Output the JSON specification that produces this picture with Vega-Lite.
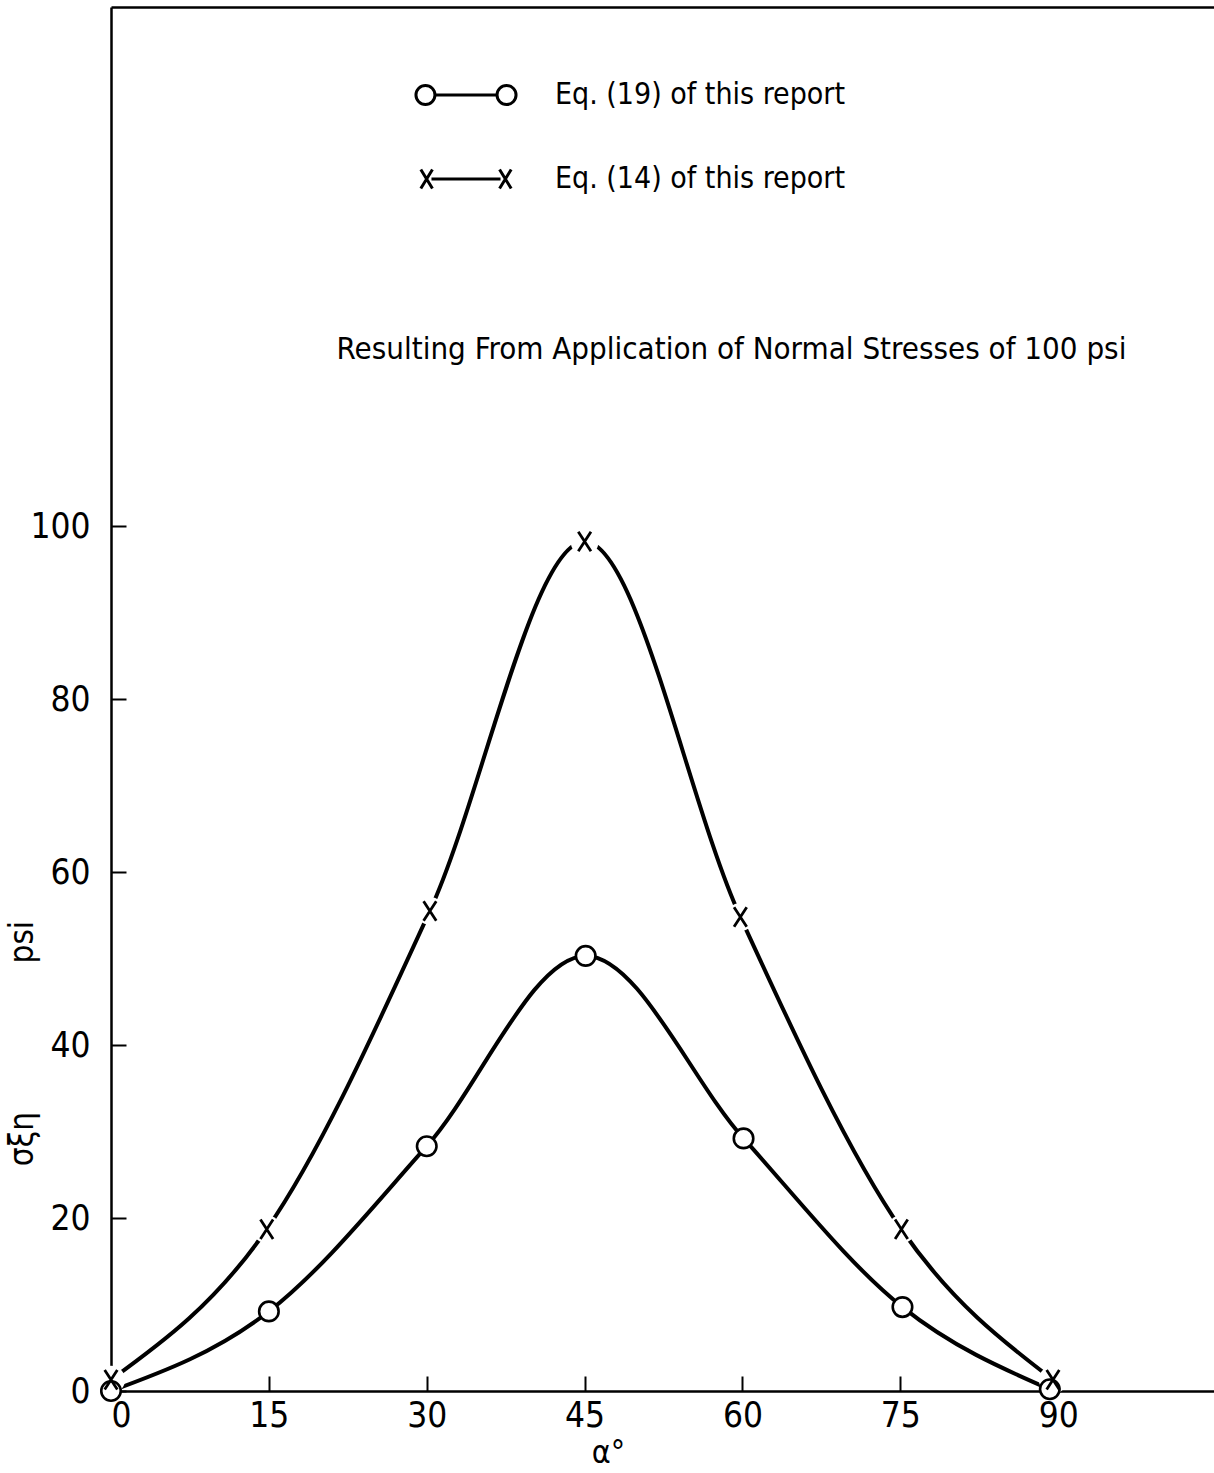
{
  "$schema": "https://vega.github.io/schema/vega-lite/v6.json",
  "width": 1103,
  "height": 1384,
  "autosize": "none",
  "padding": {"left": 111, "top": 7, "right": 0, "bottom": 82},
  "background": "white",
  "config": {
    "view": {"stroke": null},
    "font": "DejaVu Sans Condensed, Liberation Sans Narrow, sans-serif",
    "axis": {"grid": false, "domainColor": "black", "tickColor": "black", "labelColor": "black", "titleColor": "black", "titleFontWeight": "normal"}
  },
  "data": {
    "values": [
      {"alpha": 0, "sigma": 0, "series": "Eq. (19) of this report"},
      {"alpha": 15, "sigma": 9.2, "series": "Eq. (19) of this report"},
      {"alpha": 30, "sigma": 28.3, "series": "Eq. (19) of this report"},
      {"alpha": 45.1, "sigma": 50.3, "series": "Eq. (19) of this report"},
      {"alpha": 60.1, "sigma": 29.2, "series": "Eq. (19) of this report"},
      {"alpha": 75.2, "sigma": 9.7, "series": "Eq. (19) of this report"},
      {"alpha": 89.2, "sigma": 0.2, "series": "Eq. (19) of this report"},
      {"alpha": 0, "sigma": 1.3, "series": "Eq. (14) of this report"},
      {"alpha": 14.8, "sigma": 18.7, "series": "Eq. (14) of this report"},
      {"alpha": 30.3, "sigma": 55.5, "series": "Eq. (14) of this report"},
      {"alpha": 45, "sigma": 98.2, "series": "Eq. (14) of this report"},
      {"alpha": 59.8, "sigma": 54.8, "series": "Eq. (14) of this report"},
      {"alpha": 75.1, "sigma": 18.7, "series": "Eq. (14) of this report"},
      {"alpha": 89.5, "sigma": 1.3, "series": "Eq. (14) of this report"}
    ]
  },
  "resolve": {"axis": {"x": "independent"}},
  "layer": [
    {
      "mark": {"type": "line", "interpolate": "monotone", "color": "black", "strokeWidth": 4},
      "encoding": {
        "x": {
          "field": "alpha", "type": "quantitative",
          "scale": {"domain": [0, 104.8], "nice": false, "zero": false},
          "axis": {
            "orient": "bottom", "values": [0, 15, 30, 45, 60, 75, 90],
            "tickSize": -15, "tickWidth": 2, "domainWidth": 2.5,
            "labelFontSize": 35, "labelPadding": 22, "labelFlush": true,
            "title": "α°", "titleFontSize": 32, "titleX": 497, "titleY": 71,
            "titleBaseline": "alphabetic", "titleAlign": "center"
          }
        },
        "y": {
          "field": "sigma", "type": "quantitative",
          "scale": {"domain": [0, 160], "nice": false},
          "axis": {
            "values": [0, 20, 40, 60, 80, 100],
            "tickSize": -15, "tickWidth": 2, "domainWidth": 2.5,
            "labelFontSize": 35, "labelPadding": 36, "labelAlign": "right", "labelBaseline": "middle",
            "title": "σξη\u2003\u2003\u2003\u2003\u2003psi", "titleFontSize": 33, "titleAngle": -90,
            "titleX": -79, "titleY": 1036, "titleAlign": "center", "titleBaseline": "alphabetic"
          }
        },
        "detail": {"field": "series"}
      }
    },
    {
      "transform": [{"filter": "datum.series === 'Eq. (14) of this report'"}],
      "mark": {"type": "point", "shape": "circle", "filled": true, "fill": "white", "opacity": 1, "size": 784, "strokeWidth": 0},
      "encoding": {
        "x": {
          "field": "alpha", "type": "quantitative",
          "axis": {
            "orient": "top", "labels": false, "ticks": false, "domainWidth": 2.5,
            "title": "Resulting From Application of Normal Stresses of 100 psi",
            "titleFontSize": 31, "titleX": 620, "titleY": 351,
            "titleBaseline": "alphabetic", "titleAlign": "center"
          }
        },
        "y": {"field": "sigma", "type": "quantitative"}
      }
    },
    {
      "transform": [{"filter": "datum.series === 'Eq. (19) of this report'"}],
      "mark": {"type": "point", "shape": "circle", "filled": true, "fill": "white", "stroke": "black", "strokeWidth": 2.6, "opacity": 1, "size": 380},
      "encoding": {
        "x": {"field": "alpha", "type": "quantitative", "axis": null},
        "y": {"field": "sigma", "type": "quantitative"}
      }
    },
    {
      "transform": [{"filter": "datum.series === 'Eq. (14) of this report'"}],
      "mark": {"type": "point", "shape": "M-0.65,-1L0.65,1M0.65,-1L-0.65,1", "filled": false, "stroke": "black", "strokeWidth": 2.8, "opacity": 1, "size": 380},
      "encoding": {
        "x": {"field": "alpha", "type": "quantitative", "axis": null},
        "y": {"field": "sigma", "type": "quantitative"}
      }
    },
    {
      "mark": {"type": "point", "filled": false, "stroke": "black", "strokeWidth": 3, "opacity": 0.001, "size": 1505},
      "encoding": {
        "x": {"field": "alpha", "type": "quantitative", "axis": null},
        "y": {"field": "sigma", "type": "quantitative"},
        "shape": {
          "field": "series", "type": "nominal",
          "scale": {
            "domain": ["Eq. (19) of this report", "Eq. (14) of this report"],
            "range": [
              "M-1.6,0A0.49,0.49 0 1,0 -2.58,0A0.49,0.49 0 1,0 -1.6,0ZM-1.6,0L1.6,0M2.58,0A0.49,0.49 0 1,0 1.6,0A0.49,0.49 0 1,0 2.58,0Z",
              "M-2.33,-0.49L-1.73,0.49M-1.73,-0.49L-2.33,0.49M-1.78,0L1.78,0M1.73,-0.49L2.33,0.49M2.33,-0.49L1.73,0.49"
            ]
          },
          "legend": {
            "orient": "none", "legendX": 334, "legendY": 67, "title": null,
            "labelFontSize": 30, "labelColor": "black", "labelOffset": 68, "labelBaseline": "middle", "labelLimit": 0,
            "rowPadding": 47, "symbolSize": 1505, "symbolOpacity": 1,
            "symbolStrokeColor": "black", "symbolStrokeWidth": 3
          }
        }
      }
    }
  ]
}
